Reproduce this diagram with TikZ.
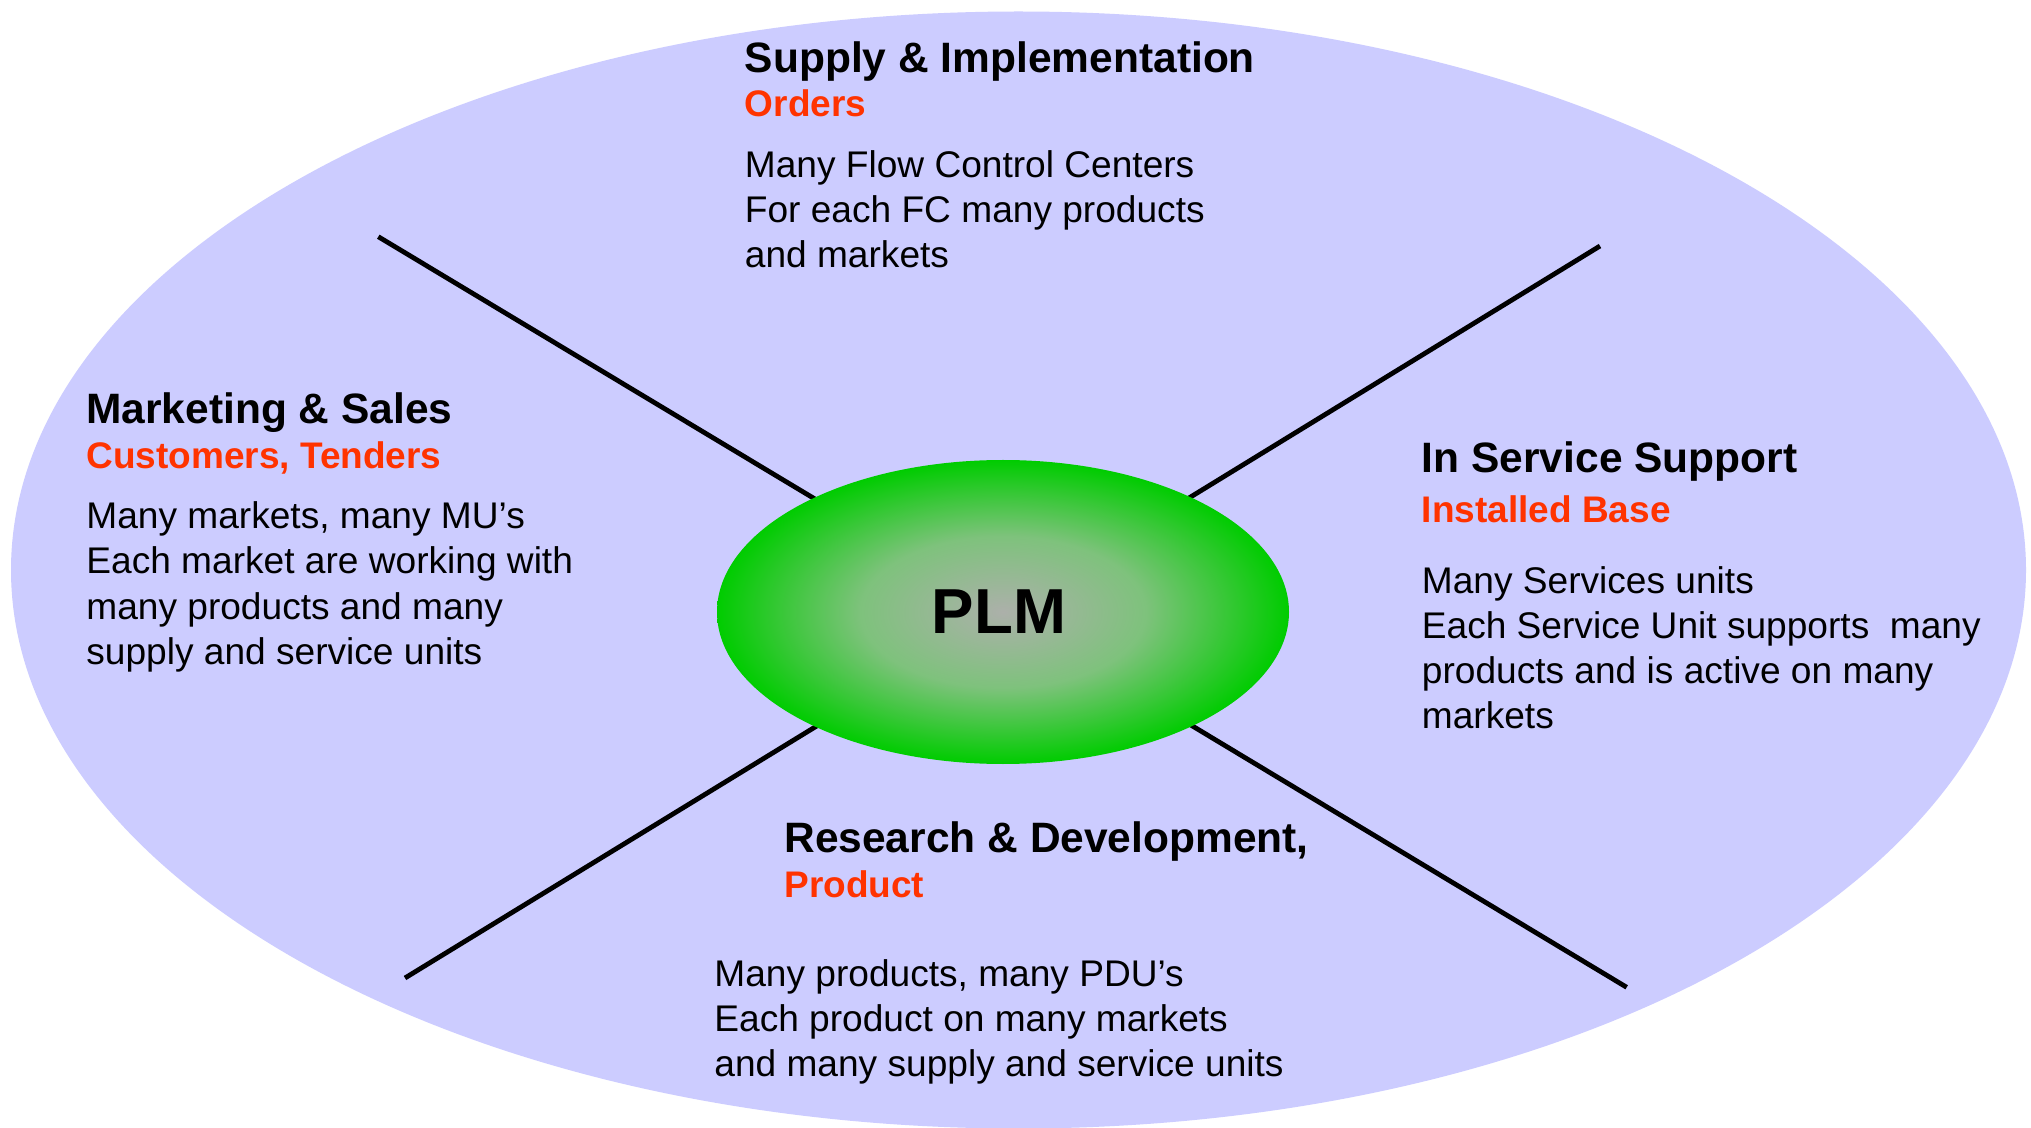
\documentclass[tikz,border=0pt]{standalone}
\usepackage{fontspec}
\setmainfont{Liberation Sans}
\usetikzlibrary{shapes.geometric}
\definecolor{lav}{RGB}{204,204,255}
\definecolor{hdred}{RGB}{255,51,0}
\definecolor{plmgreen}{RGB}{0,204,0}
\definecolor{plmgrey}{RGB}{172,176,170}
\definecolor{plmmid}{RGB}{126,194,124}
\pgfdeclareradialshading{plmshade}{\pgfpoint{0bp}{0bp}}{%
  color(0bp)=(plmgrey); color(12.5bp)=(plmmid); color(25bp)=(plmgreen); color(50bp)=(plmgreen)}
\begin{document}
\begin{tikzpicture}[x=0.5pt,y=-0.5pt,
  ttl/.style={anchor=base west,inner sep=0pt,font=\fontsize{21.25}{25}\selectfont\bfseries},
  sub/.style={anchor=base west,inner sep=0pt,text=hdred,font=\fontsize{18.5}{22}\selectfont\bfseries},
  txt/.style={anchor=base west,inner sep=0pt,font=\fontsize{18.55}{22}\selectfont},
  spoke/.style={line width=2.4pt,black}]
\useasboundingbox (0,0) rectangle (2031,1128);
\fill[white] (0,0) rectangle (2031,1128);
\node[ellipse,fill=lav,minimum width=1007.5pt,minimum height=558.5pt,inner sep=0pt] (field) at (1018.5,570) {};
% spokes
\coordinate (hub) at (1003,612);
\coordinate (ul) at (378.3,236.7);
\coordinate (ur) at (1600,246);
\coordinate (ll) at (405,978);
\coordinate (lr) at (1626.7,987.3);
\draw[spoke] (ul) -- (hub);
\draw[spoke] (ur) -- (hub);
\draw[spoke] (ll) -- (hub);
\draw[spoke] (lr) -- (hub);
\node[ellipse,inner sep=0pt,minimum width=286pt,minimum height=152pt,
  shading=plmshade,
  font=\fontsize{31.8}{36}\selectfont\bfseries] (plm) at (hub) {\hspace*{-4pt}PLM};
% Supply & Implementation
\node[ttl] (s0) at (744.5,72.7) {Supply \& Implementation};
\node[sub] (s1) at (744.5,116.7) {Orders};
\node[txt] (s2) at (744.5,177.7) {Many Flow Control Centers};
\node[txt] (s3) at (744.5,222.5) {For each FC many products};
\node[txt] (s4) at (744.5,267.3) {and markets};
% Marketing & Sales
\node[ttl] (m0) at (86,424) {Marketing \& Sales};
\node[sub] (m1) at (86,468.7) {Customers, Tenders};
\node[txt] (m2) at (86,528.5) {Many markets, many MU’s};
\node[txt] (m3) at (86,573.8) {Each market are working with};
\node[txt] (m4) at (86,619.1) {many products and many};
\node[txt] (m5) at (86,664.4) {supply and service units};
% In Service Support
\node[ttl] (i0) at (1421.5,472.3) {In Service Support};
\node[sub] (i1) at (1421.5,522.7) {Installed Base};
\node[txt] (i2) at (1421.5,594) {Many Services units};
\node[txt] (i3) at (1421.5,638.8) {Each Service Unit supports~ many};
\node[txt] (i4) at (1421.5,683.6) {products and is active on many};
\node[txt] (i5) at (1421.5,728.4) {markets};
% Research & Development
\node[ttl] (r0) at (784,852.3) {Research \& Development,};
\node[sub] (r1) at (784,897.7) {Product};
\node[txt] (r2) at (714,986.7) {Many products, many PDU’s};
\node[txt] (r3) at (714,1031.7) {Each product on many markets};
\node[txt] (r4) at (714,1076.7) {and many supply and service units};
\end{tikzpicture}
\end{document}
